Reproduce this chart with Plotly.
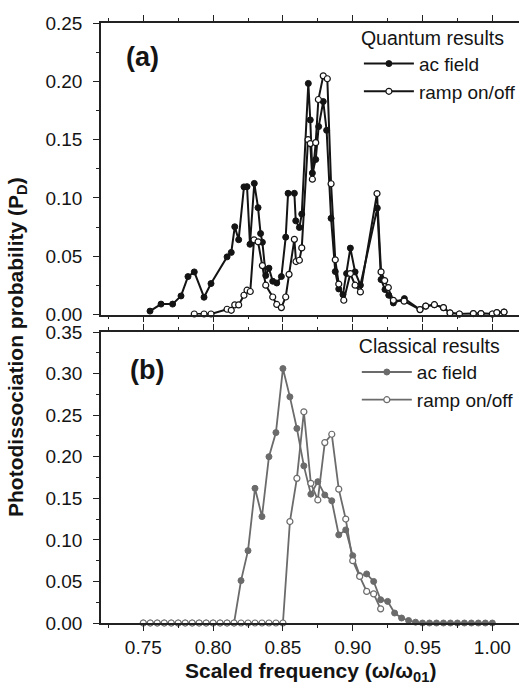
import plotly.graph_objects as go

# ---------------- Quantum results (panel a) ----------------
q_ac_x = [0.7548, 0.7627, 0.7710, 0.7770, 0.7820, 0.7865, 0.7935, 0.7985,
          0.8100, 0.8130, 0.8155, 0.8183, 0.8221, 0.8243, 0.8264, 0.8295,
          0.8322, 0.8340, 0.8353, 0.8377, 0.8400, 0.8427, 0.8456, 0.8489,
          0.8520, 0.8537, 0.8582, 0.8592, 0.8618, 0.8635, 0.8682, 0.8696,
          0.8711, 0.8735, 0.8756, 0.8789, 0.8813, 0.8845, 0.8875, 0.8900,
          0.8930, 0.8956, 0.8983, 0.9017, 0.9055, 0.9176, 0.9203, 0.9231,
          0.9258, 0.9291, 0.9370, 0.9482, 0.9523, 0.9585, 0.9650, 0.9697,
          0.9764, 0.9864, 0.9919, 1.0000, 1.0032, 1.0084]
q_ac_y = [0.0030, 0.0090, 0.0090, 0.0160, 0.0326, 0.0366, 0.0149, 0.0266,
          0.0495, 0.0533, 0.0753, 0.0642, 0.1095, 0.1097, 0.0603, 0.1125,
          0.0917, 0.0695, 0.0620, 0.0335, 0.0398, 0.0286, 0.0271, 0.0326,
          0.0664, 0.1040, 0.1040, 0.0804, 0.0747, 0.0862, 0.1982, 0.1669,
          0.1213, 0.1330, 0.1612, 0.1827, 0.1580, 0.0825, 0.0369, 0.0220,
          0.0171, 0.0352, 0.0570, 0.0366, 0.0252, 0.0913, 0.0300, 0.0215,
          0.0166, 0.0100, 0.0137, 0.0043, 0.0073, 0.0085, 0.0060, 0.0014,
          0.0005, 0.0009, 0.0009, 0.0005, 0.0017, 0.0022]

q_ramp_x = [0.7865, 0.7935, 0.7985, 0.8100, 0.8130, 0.8155, 0.8183, 0.8221,
            0.8243, 0.8266, 0.8293, 0.8322, 0.8353, 0.8377, 0.8427, 0.8456,
            0.8489, 0.8520, 0.8544, 0.8582, 0.8594, 0.8618, 0.8635, 0.8680,
            0.8696, 0.8711, 0.8735, 0.8754, 0.8789, 0.8818, 0.8845, 0.8875,
            0.8900, 0.8936, 0.8983, 0.9017, 0.9055, 0.9174, 0.9203, 0.9229,
            0.9255, 0.9291, 0.9368, 0.9482, 0.9523, 0.9585, 0.9650, 0.9697,
            0.9764, 0.9864, 0.9919, 1.0000, 1.0032, 1.0084]
q_ramp_y = [0.0005, 0.0005, 0.0005, 0.0046, 0.0037, 0.0083, 0.0083, 0.0166,
            0.0209, 0.0198, 0.0641, 0.0624, 0.0420, 0.0252, 0.0151, 0.0087,
            0.0060, 0.0151, 0.0345, 0.0645, 0.0455, 0.0466, 0.0572, 0.1500,
            0.1466, 0.1161, 0.1474, 0.1844, 0.2047, 0.2022, 0.1122, 0.0470,
            0.0262, 0.0123, 0.0352, 0.0252, 0.0194, 0.1038, 0.0366, 0.0292,
            0.0232, 0.0122, 0.0115, 0.0043, 0.0073, 0.0085, 0.0060, 0.0014,
            0.0005, 0.0009, 0.0009, 0.0005, 0.0017, 0.0022]

# ---------------- Classical results (panel b) ----------------
c_ac_x = [0.750, 0.755, 0.760, 0.765, 0.770, 0.775, 0.780, 0.785, 0.790,
          0.795, 0.800, 0.805, 0.810, 0.815, 0.820, 0.825, 0.830, 0.835,
          0.840, 0.845, 0.850, 0.855, 0.860, 0.865, 0.870, 0.875, 0.880,
          0.885, 0.890, 0.895, 0.900, 0.905, 0.910, 0.915, 0.920, 0.925,
          0.930, 0.935, 0.940, 0.945, 0.950, 0.955, 0.960, 0.965, 0.970,
          0.975, 0.980, 0.985, 0.990, 0.995, 1.000]
c_ac_y = [0, 0, 0, 0, 0, 0, 0, 0, 0, 0, 0, 0, 0, 0,
          0.051, 0.087, 0.162, 0.128, 0.200, 0.229, 0.306, 0.272, 0.234,
          0.189, 0.155, 0.170, 0.154, 0.147, 0.106, 0.112, 0.081, 0.057,
          0.059, 0.050, 0.028, 0.026, 0.012, 0.006, 0.003, 0.001,
          0, 0, 0, 0, 0, 0, 0, 0, 0, 0, 0]

c_ramp_x = [0.750, 0.755, 0.760, 0.765, 0.770, 0.775, 0.780, 0.785, 0.790,
            0.795, 0.800, 0.805, 0.810, 0.815, 0.820, 0.825, 0.830, 0.835,
            0.840, 0.845, 0.850, 0.855, 0.860, 0.865, 0.870, 0.875, 0.880,
            0.885, 0.890, 0.895, 0.900, 0.905, 0.910, 0.915, 0.920]
c_ramp_y = [0, 0, 0, 0, 0, 0, 0, 0, 0, 0, 0, 0, 0, 0, 0, 0, 0, 0, 0, 0, 0,
            0.122, 0.174, 0.254, 0.168, 0.148, 0.217, 0.227, 0.161, 0.125,
            0.075, 0.056, 0.038, 0.035, 0.017]

x_tick_vals = [0.75, 0.80, 0.85, 0.90, 0.95, 1.00]
x_tick_text = ["0.75", "0.80", "0.85", "0.90", "0.95", "1.00"]

FONT = "Liberation Sans, Arial, Helvetica, sans-serif"
BLACK = "#141414"
GRAY = "#6b6b6b"
AXC = "#222222"

fig = go.Figure()

fig.add_trace(go.Scatter(x=q_ac_x, y=q_ac_y, mode="lines+markers", name="ac field",
                         line=dict(color=BLACK, width=2),
                         marker=dict(symbol="circle", size=6, color=BLACK,
                                     line=dict(color=BLACK, width=1)),
                         cliponaxis=False, xaxis="x", yaxis="y", legend="legend"))
fig.add_trace(go.Scatter(x=q_ramp_x, y=q_ramp_y, mode="lines+markers", name="ramp on/off",
                         line=dict(color=BLACK, width=2),
                         marker=dict(symbol="circle", size=6, color="white",
                                     line=dict(color=BLACK, width=1.2)),
                         cliponaxis=False, xaxis="x", yaxis="y", legend="legend"))
fig.add_trace(go.Scatter(x=c_ac_x, y=c_ac_y, mode="lines+markers", name="ac field",
                         line=dict(color=GRAY, width=1.8),
                         marker=dict(symbol="circle", size=6, color=GRAY,
                                     line=dict(color=GRAY, width=1)),
                         cliponaxis=False, xaxis="x2", yaxis="y2", legend="legend2"))
fig.add_trace(go.Scatter(x=c_ramp_x, y=c_ramp_y, mode="lines+markers", name="ramp on/off",
                         line=dict(color=GRAY, width=1.8),
                         marker=dict(symbol="circle", size=6, color="white",
                                     line=dict(color=GRAY, width=1.2)),
                         cliponaxis=False, xaxis="x2", yaxis="y2", legend="legend2"))

XR = [0.7197, 1.0191]

common_x = dict(range=XR, showline=True, linecolor=AXC, linewidth=1.5,
                mirror="ticks", ticks="outside", ticklen=6, tickwidth=1.3,
                tickcolor=AXC, tickvals=x_tick_vals, ticktext=x_tick_text,
                minor=dict(tickvals=[0.725, 0.775, 0.825, 0.875, 0.925, 0.975],
                           ticklen=3, tickwidth=1.3, tickcolor=AXC, ticks="outside",
                           showgrid=False),
                showgrid=False, zeroline=False,
                tickfont=dict(family=FONT, size=19, color=BLACK))
common_y = dict(showline=True, linecolor=AXC, linewidth=1.5, mirror=False,
                ticks="outside", ticklen=6, tickwidth=1.3, tickcolor=AXC,
                dtick=0.05, tick0=0, tickformat=".2f",
                minor=dict(dtick=0.025, ticklen=3, tickwidth=1.3, tickcolor=AXC,
                           ticks="outside", showgrid=False),
                showgrid=False, zeroline=False, ticklabelstandoff=7,
                tickfont=dict(family=FONT, size=19, color=BLACK))

TITLEFONT = dict(family=FONT, size=19.5, color=BLACK)
LEGFONT = dict(family=FONT, size=19, color=BLACK)

fig.update_layout(
    width=519, height=688,
    margin=dict(l=101, r=0, t=23, b=65, autoexpand=False),
    paper_bgcolor="white", plot_bgcolor="white",
    font=dict(family=FONT, size=19, color=BLACK),
    xaxis=dict(common_x, anchor="y", showticklabels=False),
    yaxis=dict(common_y, domain=[0.514, 1.0], range=[0, 0.25], anchor="x"),
    xaxis2=dict(common_x, anchor="y2", showticklabels=True, ticklabelstandoff=0),
    yaxis2=dict(common_y, domain=[0.0, 0.485], range=[0, 0.35], anchor="x2"),
    legend=dict(title=dict(text="Quantum results", font=TITLEFONT),
                x=0.617, y=1.006, xanchor="left", yanchor="top",
                bgcolor="rgba(0,0,0,0)", borderwidth=0, tracegroupgap=0,
                itemwidth=50, font=LEGFONT),
    legend2=dict(title=dict(text="Classical results", font=TITLEFONT),
                 x=0.612, y=0.492, xanchor="left", yanchor="top",
                 bgcolor="rgba(0,0,0,0)", borderwidth=0, tracegroupgap=0,
                 itemwidth=50, font=LEGFONT),
    showlegend=True,
)

fig.add_annotation(text="(a)", xref="x domain", yref="y domain", x=0.1, y=0.884,
                   showarrow=False, xanchor="center", yanchor="middle",
                   font=dict(family=FONT, size=27, color=BLACK, weight="bold"))
fig.add_annotation(text="(b)", xref="x2 domain", yref="y2 domain", x=0.11, y=0.869,
                   showarrow=False, xanchor="center", yanchor="middle",
                   font=dict(family=FONT, size=27, color=BLACK, weight="bold"))
fig.add_annotation(text="Photodissociation probability (P<sub>D</sub>)",
                   xref="paper", yref="paper", x=-0.201, y=0.46, textangle=-90,
                   showarrow=False, xanchor="center", yanchor="middle",
                   font=dict(family=FONT, size=21, color=BLACK, weight="bold"))
fig.add_annotation(text="Scaled frequency (ω/ω<sub>01</sub>)",
                   xref="paper", yref="paper", x=0.5, y=-0.082,
                   showarrow=False, xanchor="center", yanchor="middle",
                   font=dict(family=FONT, size=21, color=BLACK, weight="bold"))

fig.write_html("out.html")
